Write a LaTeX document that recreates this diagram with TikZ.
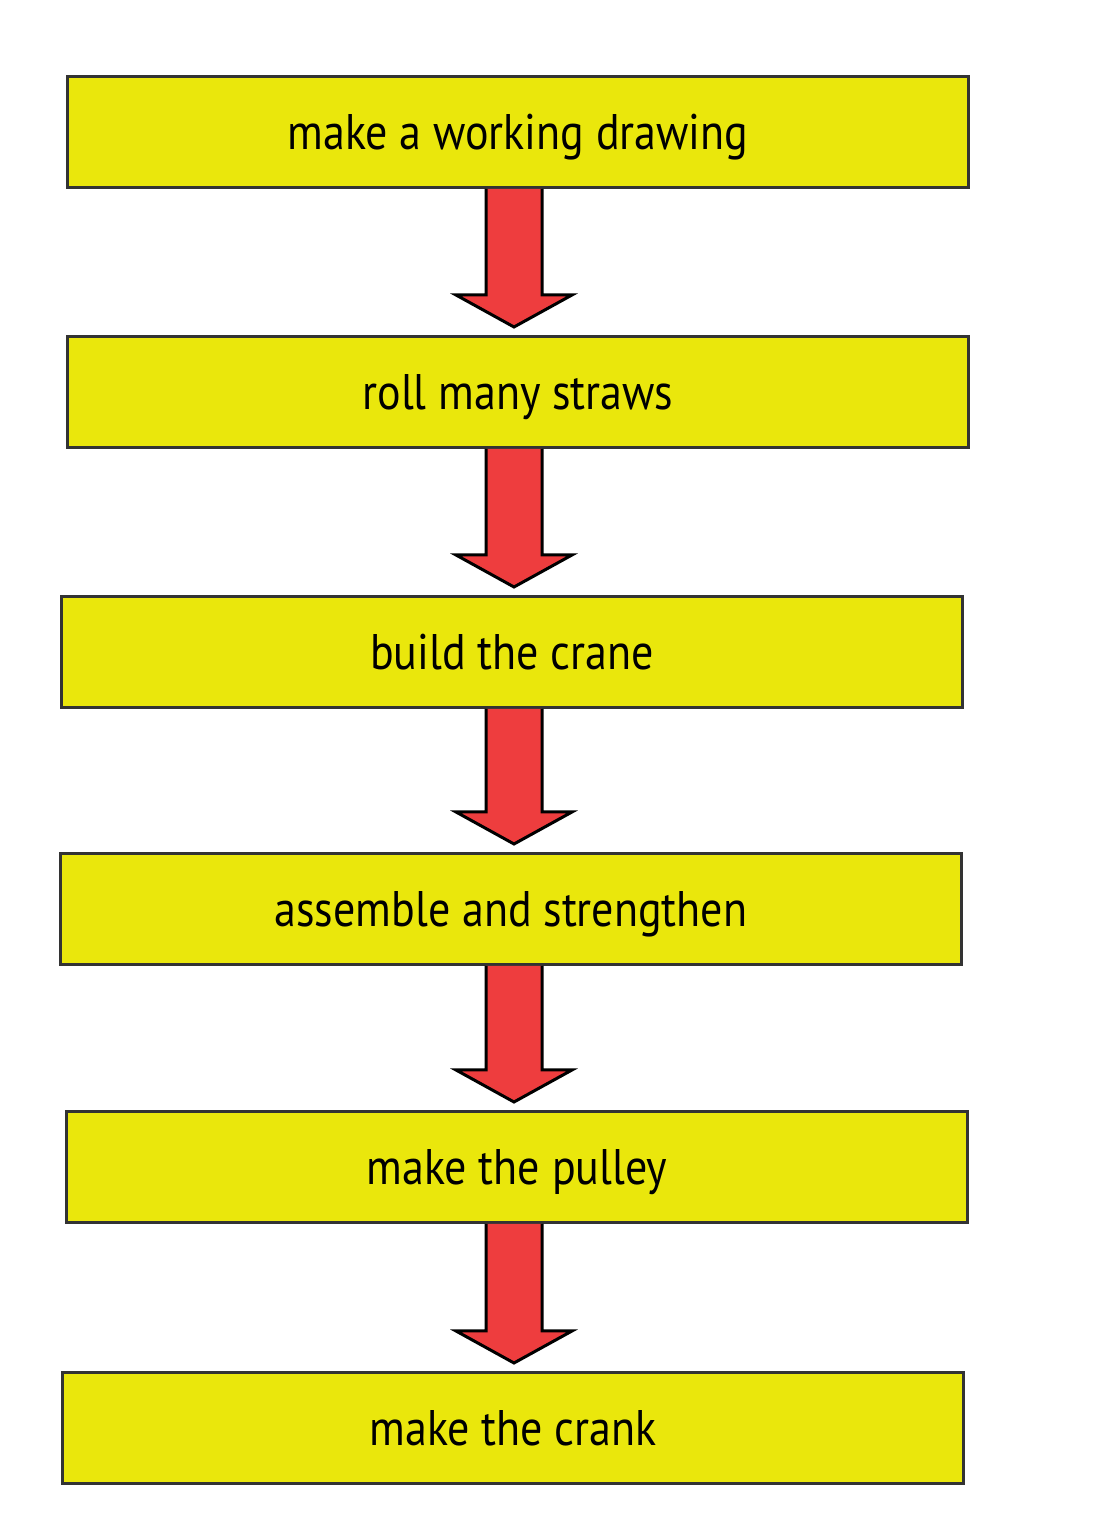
\documentclass[tikz,border=0pt]{standalone}
\usepackage{fontspec}
\setmainfont{PT Sans}[FakeStretch=0.88]
\usetikzlibrary{calc}
\definecolor{boxyellow}{HTML}{EAE70C}
\definecolor{arrowred}{HTML}{EE3D3E}
\definecolor{boxline}{HTML}{333333}
\tikzset{
  stepbox/.style={draw=boxline, line width=3pt, fill=boxyellow, minimum width=901pt,
    minimum height=111pt, inner sep=0pt, text height=36pt, text depth=0pt,
    font=\fontsize{50}{56}\selectfont},
  flowarrow/.style={draw=black, line width=3pt, fill=arrowred, line join=miter}
}
\begin{document}
\begin{tikzpicture}[x=1pt,y=1pt]
  \useasboundingbox (0,0) rectangle (1106,1535);
  % the six steps
  \node[stepbox] (drawing) at (518,1403) {make a working drawing};
  \node[stepbox] (straws) at (518,1143) {roll many straws};
  \node[stepbox] (crane) at (512,883) {build the crane};
  \node[stepbox] (assemble) at (511,626) {assemble and strengthen};
  \node[stepbox] (pulley) at (517,368) {make the pulley};
  \node[stepbox] (crank) at (513,107) {make the crank};
  % block arrows between them
  \foreach \a/\b in {drawing/straws, straws/crane, crane/assemble, assemble/pulley, pulley/crank}
    \draw[flowarrow] let \p1=(\a.south), \p2=(\b.north) in
      (486pt,\y1) -- (486pt,\y2+40pt) -- (456pt,\y2+40pt) -- (514pt,\y2+8pt)
      -- (572pt,\y2+40pt) -- (542pt,\y2+40pt) -- (542pt,\y1);
\end{tikzpicture}
\end{document}
